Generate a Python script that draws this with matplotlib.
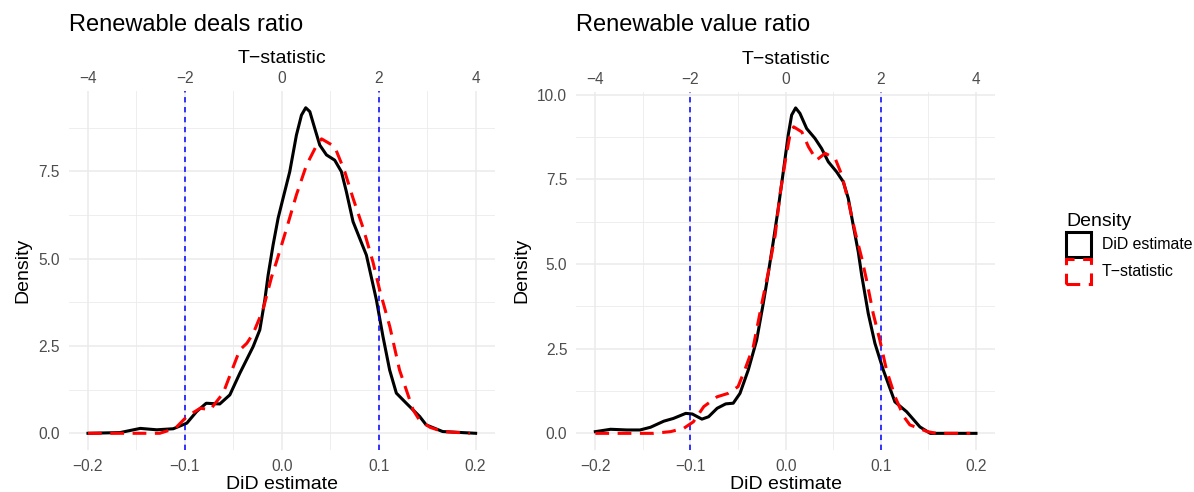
import matplotlib
matplotlib.use("Agg")
import matplotlib.pyplot as plt
from matplotlib.patches import Rectangle
from matplotlib.ticker import MultipleLocator

plt.rcParams['font.family'] = ['Liberation Sans', 'DejaVu Sans']

# ---- Data ----
# Panel 1: Renewable deals ratio -- density of DiD estimates
deals_did_x = [-0.2, -0.167, -0.146, -0.129, -0.112, -0.098, -0.088, -0.078, -0.064, -0.0536,
               -0.0433, -0.0296, -0.0227, -0.0175, -0.0141, -0.009, -0.0038, 0.0013, 0.0082, 0.0151,
               0.0203, 0.0247, 0.0289, 0.034, 0.0392, 0.0461, 0.0546, 0.0615, 0.0666, 0.0735,
               0.0804, 0.0873, 0.0907, 0.0976, 0.1044, 0.1113, 0.1182, 0.1285, 0.1423, 0.149,
               0.166, 0.2]
deals_did_y = [0.0, 0.02, 0.14, 0.10, 0.13, 0.29, 0.62, 0.86, 0.84, 1.10,
               1.72, 2.48, 2.96, 3.82, 4.53, 5.39, 6.16, 6.73, 7.49, 8.54,
               9.11, 9.32, 9.21, 8.73, 8.25, 7.97, 7.82, 7.49, 6.92, 6.06,
               5.58, 5.10, 4.68, 3.82, 2.77, 1.81, 1.15, 0.86, 0.48, 0.24,
               0.05, 0.0]
# Panel 1 -- density of T-statistics
deals_t_x = [-4.0, -2.52, -2.20, -1.96, -1.68, -1.48, -1.21, -1.0, -0.87, -0.72,
             -0.59, -0.39, -0.21, -0.11, 0.10, 0.30, 0.51, 0.72, 0.82, 1.09,
             1.30, 1.47, 1.68, 1.88, 2.02, 2.23, 2.43, 2.71, 2.84, 3.06,
             3.32, 3.88]
deals_t_y = [0.0, 0.0, 0.14, 0.48, 0.72, 0.67, 1.15, 1.91, 2.38, 2.58,
             2.86, 3.53, 4.48, 4.91, 5.87, 6.82, 7.68, 8.25, 8.43, 8.21,
             7.49, 6.73, 5.87, 4.91, 4.10, 3.05, 1.81, 0.67, 0.38, 0.17,
             0.05, 0.0]

# Panel 2: Renewable value ratio -- density of DiD estimates
value_did_x = [-0.2, -0.184, -0.167, -0.153, -0.142, -0.128, -0.118, -0.105, -0.098, -0.088,
               -0.081, -0.072, -0.063, -0.0551, -0.048, -0.0393, -0.0305, -0.0235, -0.0183, -0.013,
               -0.0078, -0.0025, 0.0027, 0.0063, 0.0105, 0.015, 0.0221, 0.0308, 0.0378, 0.0448,
               0.0536, 0.0605, 0.0658, 0.071, 0.0763, 0.0799, 0.0868, 0.0938, 0.1026, 0.1148,
               0.1271, 0.1411, 0.152, 0.2]
value_did_y = [0.05, 0.12, 0.10, 0.10, 0.18, 0.36, 0.44, 0.59, 0.57, 0.42,
               0.49, 0.74, 0.87, 0.89, 1.18, 1.87, 2.75, 3.84, 4.72, 5.66,
               6.64, 7.72, 8.81, 9.40, 9.61, 9.45, 9.00, 8.71, 8.41, 8.02,
               7.72, 7.43, 6.94, 6.15, 5.36, 4.67, 3.54, 2.66, 1.87, 0.93,
               0.64, 0.19, 0.0, 0.0]
# Panel 2 -- density of T-statistics
value_t_x = [-4.0, -2.78, -2.42, -2.14, -1.94, -1.72, -1.44, -1.21, -1.0, -0.86,
             -0.68, -0.50, -0.37, -0.22, -0.12, -0.01, 0.09, 0.17, 0.34, 0.48,
             0.65, 0.83, 1.04, 1.18, 1.32, 1.46, 1.60, 1.70, 1.84, 1.98,
             2.12, 2.30, 2.48, 2.61, 2.98, 3.18, 3.88]
value_t_y = [0.0, 0.0, 0.05, 0.15, 0.34, 0.79, 1.08, 1.18, 1.38, 1.87,
             2.56, 3.84, 4.72, 5.85, 7.04, 8.02, 8.81, 9.05, 8.90, 8.46,
             8.07, 8.27, 8.12, 7.63, 6.84, 5.95, 5.17, 4.53, 3.54, 2.75,
             1.87, 1.08, 0.50, 0.25, 0.05, 0.0, 0.0]

titles = ["Renewable deals ratio", "Renewable value ratio"]
did_ticks = [-0.2, -0.1, 0.0, 0.1, 0.2]
t_ticks = [-4, -2, 0, 2, 4]
crit_lines = [-0.1, 0.1]
legend_labels = ["DiD estimate", "T\u2212statistic"]


def fmt(v, nd):
    return f"{v:.{nd}f}".replace("-", "\u2212")


panels = [
    (deals_did_x, deals_did_y, deals_t_x, deals_t_y, [0.0, 2.5, 5.0, 7.5], (-0.467, 9.8)),
    (value_did_x, value_did_y, value_t_x, value_t_y, [0.0, 2.5, 5.0, 7.5, 10.0], (-0.48, 10.08)),
]

W, H = 1194, 492
fig = plt.figure(figsize=(W / 100, H / 100), dpi=100)
fig.patch.set_facecolor("white")

rects = [
    (68.6 / W, 1 - 449.6 / H, (495 - 68.6) / W, (449.6 - 91) / H),
    (576.3 / W, 1 - 449.6 / H, (995 - 576.3) / W, (449.6 - 92) / H),
]

grid_col = "#EBEBEB"
tick_col = "#4D4D4D"
TICK_FS = 11.2
AX_FS = 14

for i, (dx, dy, tx, ty, yt, ylim) in enumerate(panels):
    ax = fig.add_axes(rects[i])
    ax.set_xlim(-0.22, 0.22)
    ax.set_ylim(*ylim)
    for s in ax.spines.values():
        s.set_visible(False)
    ax.set_xticks(did_ticks)
    ax.set_xticklabels([fmt(v, 1) for v in did_ticks])
    ax.set_yticks(yt)
    ax.set_yticklabels([fmt(v, 1) for v in yt])
    ax.xaxis.set_minor_locator(MultipleLocator(0.05))
    ax.yaxis.set_minor_locator(MultipleLocator(1.25))
    ax.grid(which="major", color=grid_col, lw=1.1)
    ax.grid(which="minor", color=grid_col, lw=0.6)
    ax.set_axisbelow(True)
    ax.tick_params(axis="x", which="both", length=0, labelsize=TICK_FS, labelcolor=tick_col, pad=7)
    ax.tick_params(axis="y", which="both", length=0, labelsize=TICK_FS, labelcolor=tick_col, pad=6.5)
    ax.set_xlabel("DiD estimate", fontsize=AX_FS, labelpad=1)
    ax.set_ylabel("Density", fontsize=AX_FS, labelpad=5)

    ax.plot(dx, dy, color="black", lw=2.2, solid_joinstyle="round", zorder=3)
    for c in crit_lines:
        ax.axvline(c, color="blue", lw=1.1, ls=(0, (3.5, 3)), zorder=4)

    tax = ax.twiny()
    tax.set_xlim(-4.4, 4.4)
    for s in tax.spines.values():
        s.set_visible(False)
    tax.set_xticks(t_ticks)
    tax.set_xticklabels([fmt(v, 0) for v in t_ticks])
    tax.tick_params(length=0, labelsize=TICK_FS, labelcolor=tick_col, pad=3.8)
    tax.set_xlabel("T\u2212statistic", fontsize=AX_FS, labelpad=5.2)
    tax.plot(tx, ty, color="red", lw=2.2, ls=(0, (4.5, 2.8)), dash_capstyle="butt",
             dash_joinstyle="round", zorder=3)

    fig.text(rects[i][0], 1 - 25 / H, titles[i], fontsize=17, ha="left", va="center")

handles = [
    Rectangle((0, 0), 1, 1, facecolor="none", edgecolor="black", lw=2.2),
    Rectangle((0, 0), 1, 1, facecolor="none", edgecolor="red", lw=2.2, ls=(0, (4.5, 2.8))),
]
leg = fig.legend(handles, legend_labels, title="Density", loc="upper left",
                 bbox_to_anchor=(1066 / W, 1 - 213 / H), frameon=False,
                 fontsize=11.4, title_fontsize=14, handlelength=1.6, handleheight=2.1,
                 handletextpad=0.65, labelspacing=0.1, borderaxespad=0, borderpad=0)
leg._legend_box.align = "left"

fig.savefig("out.png", dpi=100)
